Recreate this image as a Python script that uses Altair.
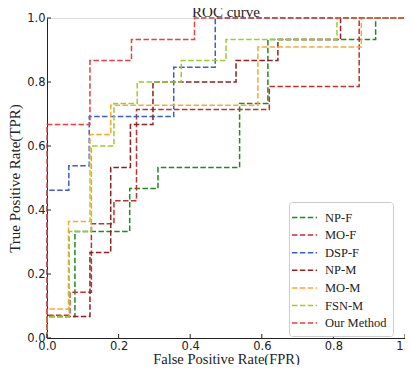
import altair as alt
import pandas as pd

series = ["NP-F", "MO-F", "DSP-F", "NP-M", "MO-M", "FSN-M", "Our Method"]
colors = ["#1f8b1f", "#c0302e", "#3b5ec8", "#8b2222", "#ffa630", "#9acd32", "#e4423c"]

np_f_fpr = [0, 0, 0.078, 0.078, 0.231, 0.231, 0.31, 0.31, 0.538, 0.538, 0.617, 0.617, 0.918, 0.918, 1.0]
np_f_tpr = [0, 0.067, 0.067, 0.333, 0.333, 0.467, 0.467, 0.533, 0.533, 0.733, 0.733, 0.933, 0.933, 1.0, 1.0]

mo_f_fpr = [0, 0, 0.064, 0.064, 0.124, 0.124, 0.187, 0.187, 0.25, 0.25, 0.621, 0.621, 0.872, 0.872, 1.0]
mo_f_tpr = [0, 0.071, 0.071, 0.143, 0.143, 0.357, 0.357, 0.429, 0.429, 0.714, 0.714, 0.786, 0.786, 1.0, 1.0]

dsp_f_fpr = [0, 0, 0.061, 0.061, 0.118, 0.118, 0.354, 0.354, 0.47, 0.47, 1.0]
dsp_f_tpr = [0, 0.462, 0.462, 0.538, 0.538, 0.692, 0.692, 0.846, 0.846, 1.0, 1.0]

np_m_fpr = [0, 0, 0.12, 0.12, 0.178, 0.178, 0.233, 0.233, 0.296, 0.296, 0.528, 0.528, 0.645, 0.645, 0.82, 0.82, 1.0]
np_m_tpr = [0, 0.067, 0.067, 0.267, 0.267, 0.533, 0.533, 0.667, 0.667, 0.8, 0.8, 0.867, 0.867, 0.933, 0.933, 1.0, 1.0]

mo_m_fpr = [0, 0, 0.06, 0.06, 0.12, 0.12, 0.178, 0.178, 0.589, 0.589, 0.878, 0.878, 1.0]
mo_m_tpr = [0, 0.091, 0.091, 0.364, 0.364, 0.636, 0.636, 0.727, 0.727, 0.909, 0.909, 1.0, 1.0]

fsn_m_fpr = [0, 0, 0.062, 0.062, 0.124, 0.124, 0.187, 0.187, 0.252, 0.252, 0.375, 0.375, 0.5, 0.5, 0.81, 0.81, 1.0]
fsn_m_tpr = [0, 0.067, 0.067, 0.333, 0.333, 0.6, 0.6, 0.733, 0.733, 0.8, 0.8, 0.867, 0.867, 0.933, 0.933, 1.0, 1.0]

ours_fpr = [0, 0, 0.12, 0.12, 0.236, 0.236, 0.412, 0.412, 1.0]
ours_tpr = [0, 0.667, 0.667, 0.867, 0.867, 0.933, 0.933, 1.0, 1.0]

tick_values = [0.0, 0.2, 0.4, 0.6, 0.8, 1.0]

curves = {
    "NP-F": (np_f_fpr, np_f_tpr),
    "MO-F": (mo_f_fpr, mo_f_tpr),
    "DSP-F": (dsp_f_fpr, dsp_f_tpr),
    "NP-M": (np_m_fpr, np_m_tpr),
    "MO-M": (mo_m_fpr, mo_m_tpr),
    "FSN-M": (fsn_m_fpr, fsn_m_tpr),
    "Our Method": (ours_fpr, ours_tpr),
}

SERIF = "Liberation Serif"
SANS = "DejaVu Sans"
W, H = 358, 320

XAXIS = alt.Axis(values=tick_values, format=".1f", title="False Positive Rate(FPR)",
                 titleFont=SERIF, titleFontSize=14.5, titleFontWeight="normal", titleColor="#222",
                 labelFont=SANS, labelFontSize=11.5, labelColor="#222", labelPadding=2,
                 ticks=False, grid=False, domainColor="#222", titleBaseline="alphabetic",
                 titleY=25, labelFlush=False)
YAXIS = alt.Axis(values=tick_values, format=".1f", title="True Positive Rate(TPR)",
                 titleFont=SERIF, titleFontSize=15, titleFontWeight="normal", titleColor="#222",
                 labelFont=SANS, labelFontSize=11.5, labelColor="#222", labelPadding=2,
                 ticks=False, grid=False, domainColor="#222", titlePadding=4, labelFlush=False)
XSCALE = alt.Scale(domain=[0, 1], nice=False, zero=False)
YSCALE = alt.Scale(domain=[0, 1], nice=False, zero=False)

color = alt.Color("series:N", scale=alt.Scale(domain=series, range=colors),
                  legend=alt.Legend(title=None, orient="none", legendX=242, legendY=184,
                                    symbolType="M-1.5,0H1.5", symbolSize=280, symbolStrokeWidth=1.5,
                                    symbolDash=[5.5, 2.4], labelFont=SERIF, labelFontSize=12.5,
                                    labelColor="#222", labelOffset=11, rowPadding=1.6,
                                    fillColor="white", strokeColor="#cccccc", cornerRadius=3,
                                    padding=6))

layers = []
for name in series:
    fx, fy = curves[name]
    df = pd.DataFrame({"series": name, "fpr": fx, "tpr": fy, "idx": list(range(len(fx)))})
    layers.append(
        alt.Chart(df).mark_line(strokeDash=[5.5, 2.4], strokeWidth=1.5).encode(
            x=alt.X("fpr:Q", scale=XSCALE, axis=XAXIS),
            y=alt.Y("tpr:Q", scale=YSCALE, axis=YAXIS),
            color=color,
            order="idx:Q",
        )
    )

xtdf = pd.DataFrame({"fpr": tick_values})
ytdf = pd.DataFrame({"tpr": tick_values})
xticks = alt.Chart(xtdf).mark_rule(color="#222", strokeWidth=1).encode(
    x=alt.X("fpr:Q", scale=XSCALE, axis=XAXIS), y=alt.value(H), y2=alt.value(H - 4))
yticks = alt.Chart(ytdf).mark_rule(color="#222", strokeWidth=1).encode(
    y=alt.Y("tpr:Q", scale=YSCALE, axis=YAXIS), x=alt.value(0), x2=alt.value(4))

chart = alt.layer(*layers, xticks, yticks).properties(
    width=W, height=H,
    title=alt.TitleParams("ROC curve", font=SERIF, fontSize=15, fontWeight="normal",
                          color="#222", anchor="middle", offset=-8),
    autosize=alt.AutoSizeParams(type="none"),
    padding={"left": 39, "top": 10, "right": 0, "bottom": 27},
).configure_view(stroke="#222", strokeWidth=1).configure(background="white")

chart.save("out.html", embed_options={"renderer": "svg", "actions": False})
